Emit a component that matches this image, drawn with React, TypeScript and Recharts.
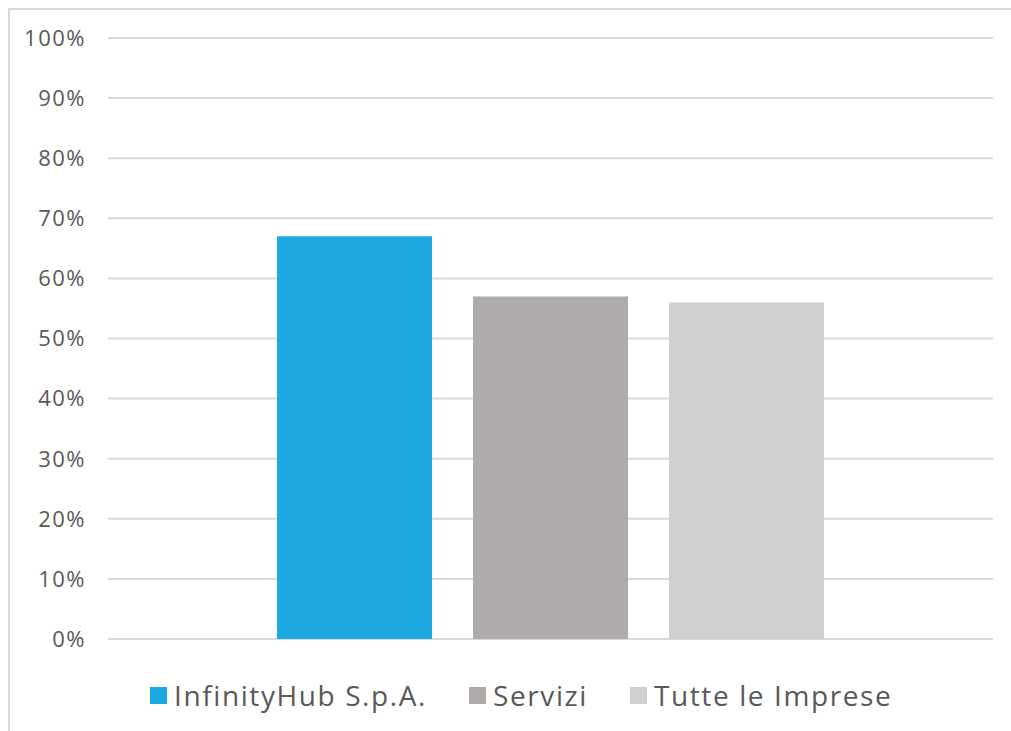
import React from "react";
import { BarChart, Bar, XAxis, YAxis, CartesianGrid, Legend } from "recharts";

const categories: string[] = [""];
const seriesNames: string[] = ["InfinityHub S.p.A.", "Servizi", "Tutte le Imprese"];
const infinityHubValues: number[] = [0.67];
const serviziValues: number[] = [0.57];
const tutteValues: number[] = [0.56];
const yTicks: number[] = [0, 0.1, 0.2, 0.3, 0.4, 0.5, 0.6, 0.7, 0.8, 0.9, 1];

const seriesColors = ["#1CA9E1", "#AFABAB", "#D0CECE"];
const seriesKeys = ["infinity", "servizi", "tutte"];

const data = categories.map((c, i) => ({
  name: c,
  infinity: infinityHubValues[i],
  servizi: serviziValues[i],
  tutte: tutteValues[i],
}));

const FONT = "'Open Sans', sans-serif";
const TEXT = "#595959";

const renderLegend = (props: any) => {
  const payload = props.payload || [];
  return (
    <div
      style={{
        height: 91,
        boxSizing: "border-box",
        paddingTop: 21,
        paddingLeft: 140,
        display: "flex",
        alignItems: "center",
        fontFamily: FONT,
        fontSize: 28,
        letterSpacing: 1.6,
        color: TEXT,
        lineHeight: "30px",
        whiteSpace: "nowrap",
      }}
    >
      {payload.map((p: any, i: number) => (
        <div key={i} style={{ display: "flex", alignItems: "center", marginRight: 42 }}>
          <span
            style={{
              display: "inline-block",
              width: 17,
              height: 17,
              background: p.color,
              marginRight: 7,
            }}
          />
          <span>{p.value}</span>
        </div>
      ))}
    </div>
  );
};

export default function App() {
  return (
    <div
      style={{
        position: "fixed",
        left: 8,
        top: 8,
        width: 1003,
        height: 723,
        overflow: "hidden",
      }}
    >
      <div
        style={{
          width: 1040,
          height: 740,
          border: "2px solid #D9D9D9",
          boxSizing: "border-box",
          background: "#fff",
        }}
      >
        <BarChart
          width={1000}
          height={720}
          data={data}
          margin={{ top: 28, right: 17, bottom: 0, left: 0 }}
          barSize={155}
          barGap={41}
        >
          <CartesianGrid vertical={false} stroke="#D9D9D9" strokeWidth={2} />
          <XAxis dataKey="name" hide />
          <YAxis
            width={98}
            domain={[0, 1]}
            ticks={yTicks}
            interval={0}
            axisLine={false}
            tickLine={false}
            tickSize={6}
            tickMargin={16}
            tickFormatter={(v: number) => `${Math.round(v * 100)}%`}
            tick={{ fill: TEXT, fontSize: 22, fontFamily: FONT, letterSpacing: 1.5 }}
          />
          <Legend
            verticalAlign="bottom"
            content={renderLegend}
            wrapperStyle={{ left: 0, width: 1000 }}
          />
          {seriesKeys.map((k, i) => (
            <Bar
              key={k}
              dataKey={k}
              name={seriesNames[i]}
              fill={seriesColors[i]}
              isAnimationActive={false}
            />
          ))}
        </BarChart>
      </div>
    </div>
  );
}
